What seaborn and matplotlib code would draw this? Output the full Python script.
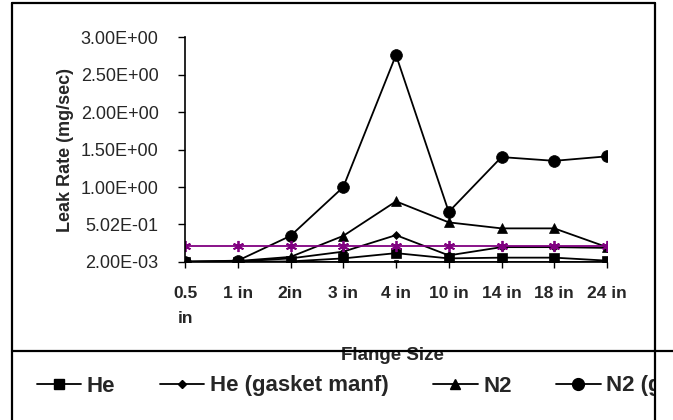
import numpy as np
import pandas as pd
import matplotlib
matplotlib.use("Agg")
import matplotlib.pyplot as plt
from matplotlib.lines import Line2D
from matplotlib.patches import Rectangle
import seaborn as sns

sizes = ["0.5\nin", "1 in", "2in", "3 in", "4 in", "10 in", "14 in", "18 in", "24 in"]
he = [0.002, 0.005, 0.01, 0.05, 0.12, 0.05, 0.06, 0.06, 0.02]
he_gasket = [0.004, 0.008, 0.05, 0.14, 0.36, 0.09, 0.20, 0.20, 0.19]
n2 = [0.008, 0.015, 0.07, 0.35, 0.81, 0.53, 0.45, 0.45, 0.20]
n2_gasket = [0.006, 0.02, 0.35, 1.00, 2.76, 0.67, 1.40, 1.35, 1.41]
limit = [0.21, 0.21, 0.21, 0.21, 0.21, 0.21, 0.21, 0.21, 0.21]
baseline = [0.002, 0.002, 0.002, 0.002, 0.002, 0.002, 0.002, 0.002, 0.002]
ytick_vals = [0.002, 0.502, 1.0, 1.5, 2.0, 2.5, 3.0]
ytick_labels = ["2.00E-03", "5.02E-01", "1.00E+00", "1.50E+00", "2.00E+00", "2.50E+00", "3.00E+00"]

sns.set_style("white")
plt.rcParams["font.family"] = ["Liberation Sans", "DejaVu Sans"]

W, H = 673, 420
fig = plt.figure(figsize=(W / 100, H / 100), dpi=100)
ax = fig.add_axes([185 / W, 1 - 262 / H, (607 - 185) / W, (262 - 37) / H])

pos = np.arange(len(sizes))
series = [
    (baseline, "_nolegend_", "s", 3, "black"),
    (he, "He", "s", 6.5, "black"),
    (he_gasket, "He (gasket manf)", "D", 4.5, "black"),
    (n2, "N2", "^", 7, "black"),
    (n2_gasket, "N2 (gasket manf)", "o", 8.5, "black"),
    (limit, "_nolegend_", (6, 2, 0), 8, "#800080"),
]
handles = []
for vals, lab, mk, ms, col in series:
    df = pd.DataFrame({"x": pos, "y": vals})
    sns.lineplot(data=df, x="x", y="y", ax=ax, color=col, marker=mk, markersize=ms,
                 markeredgecolor=col, markerfacecolor=col, linewidth=1.3,
                 markeredgewidth=1.3 if col != "black" else 0.5, label=lab, legend=False)
    if not lab.startswith("_"):
        handles.append(Line2D([], [], color=col, marker=mk, markersize=ms,
                              markerfacecolor=col, linewidth=1.3, label=lab))

ax.set_xlim(0, len(sizes) - 1)
ax.set_ylim(0.002, 3.0)
ax.set_yticks(ytick_vals)
ax.set_yticklabels(ytick_labels, fontsize=13)
ax.set_xticks(pos)
ax.set_xticklabels(sizes, fontsize=12.5, fontweight="bold", linespacing=1.9, va="top")
ax.tick_params(axis="y", direction="out", length=5, width=1, color="black", pad=14, left=True)
ax.tick_params(axis="x", direction="out", length=4, width=1, color="black", pad=13, bottom=True)
ax.set_xlabel("")
ax.set_ylabel("Leak Rate (mg/sec)", fontsize=13, fontweight="bold", labelpad=5)
for s in ["top", "right"]:
    ax.spines[s].set_visible(False)
for s in ["left", "bottom"]:
    ax.spines[s].set_color("black")
    ax.spines[s].set_linewidth(1.2)

fig.text(392 / W, 1 - 356 / H, "Flange Size", fontsize=13.5, fontweight="bold",
         ha="center", va="center")

leg = fig.legend(handles=handles, loc="center left", bbox_to_anchor=(37 / W, 1 - 386 / H),
                 ncol=4, frameon=False, fontsize=16, handlelength=2.0, handletextpad=0.25,
                 columnspacing=2.0, borderaxespad=0, borderpad=0)
for t in leg.get_texts():
    t.set_fontweight("bold")

# region beyond the frame is hidden
fig.add_artist(Rectangle((656 / W, 0), (W - 656) / W, 1 - 352 / H, transform=fig.transFigure,
                         facecolor="white", edgecolor="none", zorder=10))
lw = 1.6
fig.add_artist(Line2D([12 / W, 12 / W], [0, 1 - 3 / H], color="black", lw=lw, zorder=11))
fig.add_artist(Line2D([12 / W, 655 / W], [1 - 3 / H, 1 - 3 / H], color="black", lw=lw, zorder=11))
fig.add_artist(Line2D([655 / W, 655 / W], [0, 1 - 3 / H], color="black", lw=lw, zorder=11))
fig.add_artist(Line2D([12 / W, 1], [1 - 351 / H, 1 - 351 / H], color="black", lw=lw, zorder=11))

fig.savefig("out.png", dpi=100)
